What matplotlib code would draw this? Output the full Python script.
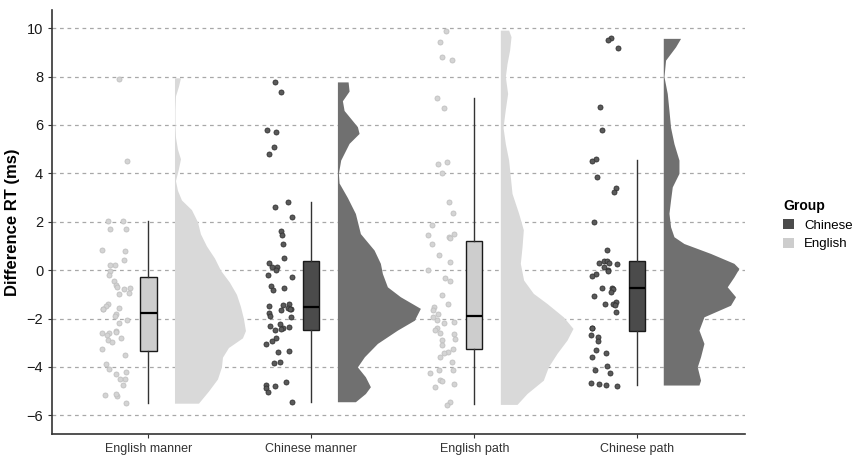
import numpy as np
import matplotlib
matplotlib.use("Agg")
import matplotlib.pyplot as plt
from matplotlib.patches import Patch

plt.rcParams['font.family'] = ['Liberation Sans', 'DejaVu Sans']

categories = ["English manner", "Chinese manner", "English path", "Chinese path"]
groups = ["English", "Chinese", "English", "Chinese"]

# raw difference RT per participant
eng_manner = [7.9, 4.5, 2.03, 2.05, 1.72, 1.68, 0.82, 0.77, 0.43, 0.23, 0.2, -0.03, -0.2, -0.45,
              -0.6, -0.7, -0.75, -0.8, -1.0, -0.95, -1.4, -1.5, -1.55, -1.6, -1.6, -1.8, -1.9,
              -2.05, -2.2, -2.5, -2.55, -2.6, -2.6, -2.7, -2.8, -2.9, -2.97, -3.25, -3.5, -3.9,
              -4.1, -4.2, -4.3, -4.5, -4.5, -4.75, -5.15, -5.2, -5.1, -5.5]
chi_manner = [7.78, 7.37, 5.79, 5.69, 5.07, 4.79, 2.80, 2.62, 2.18, 1.62, 1.46, 1.10, 0.51, 0.30,
              0.13, 0.12, 0.02, -0.2, -0.27, -0.67, -0.72, -0.82, -1.38, -1.45, -1.5, -1.55, -1.6,
              -1.62, -1.65, -1.76, -1.9, -1.93, -2.23, -2.3, -2.35, -2.4, -2.45, -2.47, -2.82,
              -2.93, -3.06, -3.34, -3.38, -3.79, -3.83, -4.64, -4.75, -4.8, -4.86, -5.03, -5.44]
eng_path = [9.89, 9.44, 8.79, 8.68, 7.12, 6.71, 4.48, 4.37, 4.0, 2.80, 2.35, 1.86, 1.5, 1.45,
            1.38, 1.31, 1.07, 0.62, 0.35, 0.02, -0.33, -0.44, -1.03, -1.38, -1.52, -1.65, -1.82,
            -1.93, -2.07, -2.14, -2.2, -2.41, -2.48, -2.62, -2.6, -2.85, -2.89, -3.1, -3.24,
            -3.37, -3.44, -3.58, -3.79, -4.13, -4.13, -4.27, -4.55, -4.59, -4.71, -4.82, -5.44, -5.58]
chi_path = [9.58, 9.5, 9.19, 6.74, 5.79, 4.58, 4.51, 3.86, 3.40, 3.22, 1.98, 0.83, 0.39, 0.37,
            0.3, 0.28, 0.25, 0.14, 0.0, -0.05, -0.14, -0.25, -0.72, -0.75, -0.8, -0.9, -1.07,
            -1.31, -1.4, -1.45, -1.42, -1.72, -2.38, -2.4, -2.69, -2.78, -2.92, -3.31, -3.44,
            -3.58, -3.95, -4.13, -4.27, -4.68, -4.7, -4.8, -4.75]
points = [eng_manner, chi_manner, eng_path, chi_path]

# box stats: whisker low, q1, median, q3, whisker high
whis_lo = [-5.5, -5.44, -5.55, -4.75]
q1 = [-3.35, -2.48, -3.24, -2.52]
median = [-1.79, -1.52, -1.89, -0.73]
q3 = [-0.27, 0.36, 1.19, 0.36]
whis_hi = [2.05, 2.80, 7.12, 4.57]

# half-violin outlines (y value, relative density width)
cloud1_y = [7.95, 7.6, 7.2, 6.6, 6.0, 5.5, 5.0, 4.6, 4.2, 3.7, 3.3, 2.9, 2.5, 2.0, 1.5, 1.0, 0.5,
            0.0, -0.5, -1.0, -1.5, -2.0, -2.5, -2.8, -3.2, -3.6, -4.0, -4.5, -5.0, -5.5]
cloud1_w = [6, 4, 1, 0.5, 0.5, 1, 3, 6, 4, 1, 3, 7, 17, 23, 26, 32, 40, 46, 55, 62, 66, 69, 71,
            68, 54, 48, 47, 43, 34, 24]
cloud2_y = [7.78, 7.4, 7.0, 6.6, 5.93, 5.65, 5.24, 4.55, 4.0, 3.6, 3.0, 2.34, 1.51, 0.83, 0.28,
            -0.14, -0.69, -1.1, -1.58, -2.07, -2.48, -3.03, -3.58, -4.0, -4.41, -4.82, -5.1, -5.44]
cloud2_w = [10.7, 11.7, 5, 6.7, 20, 21.7, 11.7, 3.3, 1, 1.7, 10, 18, 23, 36.7, 43, 45, 50, 63, 83,
            77, 60, 40, 27, 20, 28, 33, 28, 18]
cloud3_y = [9.92, 9.65, 9.1, 8.54, 8.0, 7.3, 6.65, 5.9, 5.23, 4.55, 3.86, 3.17, 2.35, 1.67, 0.96,
            0.28, -0.41, -0.96, -1.38, -1.93, -2.41, -2.89, -3.44, -4.0, -4.55, -5.1, -5.55]
cloud3_w = [8.3, 10.7, 9.3, 6.7, 5, 7.3, 5, 2.7, 5, 8.3, 10, 11.7, 18.3, 23, 21.7, 20, 23.3, 33,
            46.7, 63, 72.7, 66.7, 56.7, 48, 43, 26.7, 16.7]
cloud4_y = [9.58, 9.23, 8.68, 8.0, 7.3, 6.6, 5.9, 5.23, 4.55, 4.0, 3.44, 2.9, 2.35, 1.79, 1.38,
            1.1, 0.69, 0.28, 0.07, -0.28, -0.69, -1.1, -1.45, -1.93, -2.48, -3.03, -3.58, -4.0,
            -4.55, -4.75]
cloud4_w = [17.3, 12.3, 2.3, 0.7, 4, 5.7, 7.3, 10.7, 15.7, 15.7, 9, 7.3, 5.7, 7.3, 10.7, 20.7,
            47.3, 70.7, 75.7, 70.7, 64, 72.3, 67.3, 40.7, 35.7, 40.7, 37.3, 34, 37.3, 35.7]
clouds = [(cloud1_y, cloud1_w), (cloud2_y, cloud2_w), (cloud3_y, cloud3_w), (cloud4_y, cloud4_w)]

style = {
    "English": dict(pt="#d4d4d4", pt_edge="#c0c0c0", box="#cdcdcd", cloud="#d9d9d9"),
    "Chinese": dict(pt="#5a5a5a", pt_edge="#333333", box="#4b4b4b", cloud="#707070"),
}

fig = plt.figure(figsize=(8.57, 4.57), dpi=100)
ax = fig.add_axes([0.061, 0.050, 0.808, 0.928])

xs = np.arange(1, len(categories) + 1)
rng = np.random.default_rng(7)  # jitter only

for i, x in enumerate(xs):
    st = style[groups[i]]
    # clouds
    cy, cw = clouds[i]
    cw = np.array(cw) / 163.0
    ax.fill_betweenx(cy, x + 0.16, x + 0.16 + cw, color=st["cloud"], lw=0, zorder=2)
    # jittered raw points
    vals = points[i]
    jit = rng.uniform(-0.085, 0.085, len(vals))
    ax.scatter(x - 0.2 + jit, vals, s=13, c=st["pt"], edgecolors=st["pt_edge"],
               linewidths=0.6, zorder=3)

stats = []
for i in range(len(categories)):
    stats.append(dict(whislo=whis_lo[i], q1=q1[i], med=median[i], q3=q3[i], whishi=whis_hi[i]))
bp = ax.bxp(stats, positions=xs, widths=0.1, showfliers=False, showcaps=False,
            patch_artist=True,
            boxprops=dict(edgecolor="#1a1a1a", linewidth=1.0),
            whiskerprops=dict(color="#333333", linewidth=1.0),
            medianprops=dict(color="#000000", linewidth=1.6))
for i, patch in enumerate(bp["boxes"]):
    patch.set_facecolor(style[groups[i]]["box"])
    patch.set_zorder(4)
for ln in bp["whiskers"] + bp["medians"]:
    ln.set_zorder(4)

ax.set_xlim(0.41, 4.66)
ax.set_ylim(-6.78, 10.75)
ax.set_yticks(np.arange(-6, 11, 2))
ax.set_xticks(xs)
ax.set_xticklabels(categories, fontsize=9, color="#1a1a1a")
ax.tick_params(axis="y", labelsize=10.5, colors="#333333", labelcolor="#1a1a1a", length=3)
ax.tick_params(axis="x", colors="#333333", length=3)
ax.yaxis.grid(True, linestyle=(0, (3, 3)), color="#a8a8a8", linewidth=0.9)
ax.set_axisbelow(True)
for side in ["top", "right"]:
    ax.spines[side].set_visible(False)
for side in ["left", "bottom"]:
    ax.spines[side].set_color("#333333")
    ax.spines[side].set_linewidth(1.2)
ax.set_ylabel("Difference RT (ms)", fontsize=12, fontweight="bold", labelpad=5)

handles = [Patch(facecolor=style["Chinese"]["box"], edgecolor="none", label="Chinese"),
           Patch(facecolor=style["English"]["box"], edgecolor="none", label="English")]
leg = fig.legend(handles=handles, title="Group", loc="upper left", bbox_to_anchor=(0.9, 0.59),
                 frameon=False, fontsize=9.5, handlelength=0.8, handleheight=0.8,
                 handletextpad=0.8, labelspacing=0.45)
leg.get_title().set_fontweight("bold")
leg.get_title().set_fontsize(10)
leg._legend_box.align = "left"

fig.savefig("out.png", dpi=100)
